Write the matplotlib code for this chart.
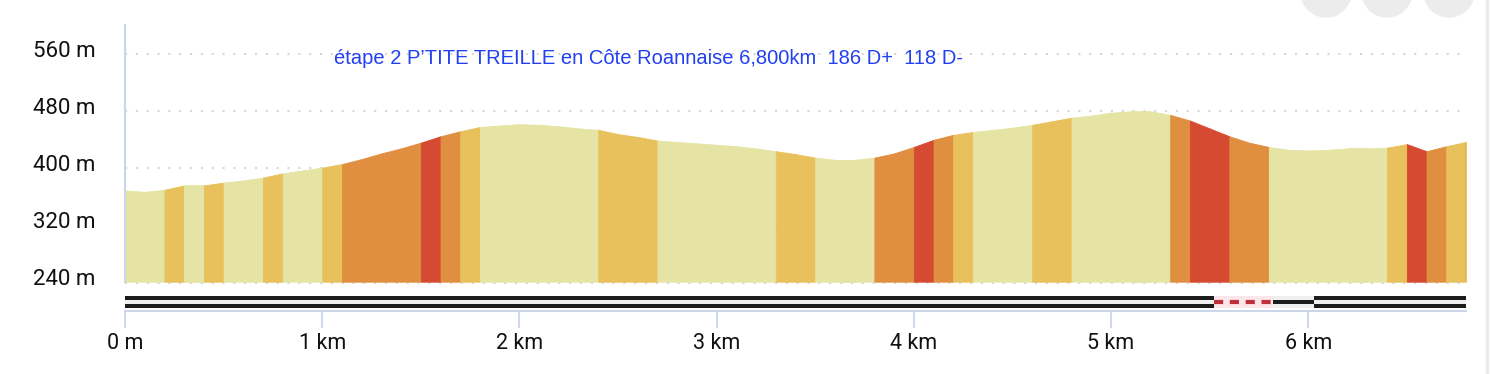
import numpy as np
import matplotlib.pyplot as plt
from matplotlib.patches import Ellipse, Rectangle
from matplotlib.transforms import ScaledTranslation

# elevation profile sampled every 100 m
dist_km = np.round(np.arange(69) * 0.1, 1)
elev_m = [368, 366, 369, 375, 375, 379, 382, 386, 392, 396,
          400, 405, 412, 420, 427, 435, 444, 451, 457, 459,
          461, 460, 458, 455, 453, 447, 443, 438, 436, 434,
          432, 430, 427, 423, 419, 414, 411, 411, 414, 420,
          429, 439, 446, 450, 453, 456, 460, 465, 470, 473,
          477, 479, 479, 474, 466, 455, 444, 435, 429, 425,
          424, 425, 427, 427, 428, 433, 423, 430, 436]

# slope class of each 100 m segment: p=flat, y=moderate, o=steep, r=very steep
slope_class = list("ppypyppypp" + "yooooroy" + "pppppp" + "yyy" + "pppppp"
                   + "yy" + "ppp" + "ooroy" + "ppp" + "yy"
                   + "ppppp" + "orroo" + "pppppp" + "yroy")
class_colors = {"p": "#e5e4a4", "y": "#e8c15c", "o": "#e08f41", "r": "#d64a31"}

# track surface along the route (start km, end km, type)
track_start = [0.0, 5.52, 5.82, 6.03]
track_end = [5.52, 5.82, 6.03, 6.8]
track_type = ["double", "dashed", "single", "double"]

yticks = [240, 320, 400, 480, 560]
xticks = [0, 1, 2, 3, 4, 5, 6]
xtick_labels = ["0 m", "1 km", "2 km", "3 km", "4 km", "5 km", "6 km"]
title = "étape 2 P’TITE TREILLE en Côte Roannaise 6,800km  186 D+  118 D-"

W, H = 1492, 374
fig = plt.figure(figsize=(W / 100, H / 100), dpi=100)

x0, x1 = 125, 1466
ax = fig.add_axes([x0 / W, 1 - 281.7 / H, (x1 - x0) / W, (281.7 - 25) / H])
for i in range(len(slope_class)):
    c = class_colors[slope_class[i]]
    ax.fill_between(dist_km[i:i + 2], elev_m[i:i + 2], 240, color=c, lw=0.6,
                    edgecolor=c, zorder=2)
ax.plot([6.8, 6.8], [240, elev_m[-1]], color="#b07a1c", lw=1, zorder=3)

ax.set_xlim(0, 6.8)
ax.set_ylim(240, 600)
ax.set_yticks(yticks)
ax.set_yticklabels([f"{v} m" for v in yticks], family="Roboto", fontsize=16,
                   color="#111111")
ax.set_xticks([])
for v in yticks:
    ax.axhline(v - (1.5 if v == 240 else 0), color="#d6d6d6", lw=1.5,
               ls=(0, (1, 4.2)), zorder=1, clip_on=False)
ax.tick_params(axis="y", length=0, pad=21.5)
offset = ScaledTranslation(0, 5 / 100, fig.dpi_scale_trans)
for lab in ax.get_yticklabels():
    lab.set_transform(lab.get_transform() + offset)
for s in ["top", "right", "bottom"]:
    ax.spines[s].set_visible(False)
ax.spines["left"].set_color("#ccd6eb")
ax.spines["left"].set_linewidth(1.5)

ax.text((334 - x0) / (x1 - x0), (281.7 - 59) / 256.7, title, transform=ax.transAxes,
        family="Liberation Sans", fontsize=14.5, color="#2340f0", va="center", ha="left")

# track bar + distance axis
axb = fig.add_axes([x0 / W, 1 - 311 / H, (x1 - x0) / W, 17 / H])
axb.set_xlim(0, 6.8)
axb.set_ylim(0, 17)
for a, b, t in zip(track_start, track_end, track_type):
    if t == "double":
        axb.fill_between([a, b], 7, 11, color="#efefef", lw=0)
        axb.fill_between([a, b], 3, 7, color="#1c1c1c", lw=0)
        axb.fill_between([a, b], 11, 15, color="#1c1c1c", lw=0)
    elif t == "dashed":
        axb.fill_between([a, b], 3, 15, color="#fbe6ea", lw=0)
        axb.plot([a, b], [9, 9], color="#c0303a", lw=3, ls=(0, (2.2, 1.6)),
                 solid_capstyle="butt")
    else:
        axb.fill_between([a, b], 3, 15, color="#efefef", lw=0)
        axb.fill_between([a, b], 7, 11, color="#1c1c1c", lw=0)
for s in ["top", "right", "left"]:
    axb.spines[s].set_visible(False)
axb.spines["bottom"].set_color("#ccd6eb")
axb.spines["bottom"].set_linewidth(1.5)
axb.set_yticks([])
axb.set_xticks(xticks)
axb.set_xticklabels(xtick_labels, family="Roboto", fontsize=15.5, color="#111111")
axb.tick_params(axis="x", length=12, width=1.3, color="#ccd6eb", pad=4)

# interface decorations of the screenshot
for cx in [1326, 1387, 1449]:
    fig.patches.append(Ellipse((cx / W, 1 + 8 / H), 50 / W, 50 / H,
                               transform=fig.transFigure, color="#ececec", zorder=0))
fig.patches.append(Rectangle((1486 / W, 0), 2 / W, 1, transform=fig.transFigure,
                             color="#ebebeb", zorder=0))

fig.savefig("out.png", dpi=100)
